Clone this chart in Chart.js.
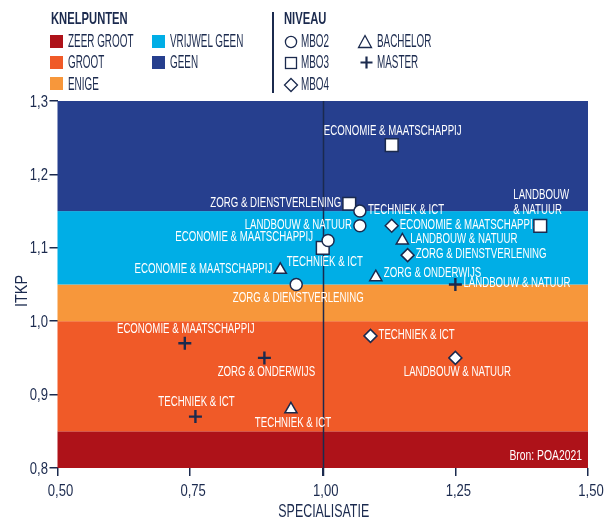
<!DOCTYPE html>
<html>
<head>
<meta charset="utf-8">
<script src="https://cdn.jsdelivr.net/npm/chart.js@4.4.1/dist/chart.umd.min.js"></script>
<style>
  body { margin: 0; background: #fff; }
  #wrap { position: relative; width: 616px; height: 522px; color: #1b2a4e;
          font-family: 'Liberation Sans', Arial, sans-serif; }
  #wrap canvas { position: absolute; left: 0; top: 0; }
  .lg { position: absolute; font-size: 18px; line-height: 18px; white-space: nowrap;
        transform: scaleX(0.55); transform-origin: 0 50%; }
  .hd { font-weight: bold; font-size: 17px; line-height: 17px; transform: scaleX(0.66); }
  .sw { position: absolute; width: 13px; height: 13px; }
  .sym { position: absolute; }
  #sep { position: absolute; left: 272px; top: 12px; width: 2px; height: 81px; background: #1b2a4e; }
</style>
</head>
<body>
<div id="wrap">
  <canvas id="js-canvas-itkp" width="616" height="522"></canvas>

  <div class="lg hd" style="left:51px;top:10px">KNELPUNTEN</div>
  <div class="sw" style="left:50px;top:35px;background:#ae1219"></div>
  <div class="lg" style="left:68px;top:32px">ZEER GROOT</div>
  <div class="sw" style="left:50px;top:56px;background:#f05a28"></div>
  <div class="lg" style="left:68px;top:53px">GROOT</div>
  <div class="sw" style="left:50px;top:77px;background:#f7973b"></div>
  <div class="lg" style="left:68px;top:75px">ENIGE</div>
  <div class="sw" style="left:152px;top:35px;background:#00aee6"></div>
  <div class="lg" style="left:170px;top:32px">VRIJWEL GEEN</div>
  <div class="sw" style="left:152px;top:56px;background:#263f8e"></div>
  <div class="lg" style="left:170px;top:53px">GEEN</div>

  <div id="sep"></div>

  <div class="lg hd" style="left:284px;top:10px">NIVEAU</div>
  <svg class="sym" style="left:284px;top:35px" width="14" height="14"><circle cx="7" cy="7" r="5.6" fill="none" stroke="#1b2a4e" stroke-width="1.3"/></svg>
  <div class="lg" style="left:301px;top:32px">MBO2</div>
  <svg class="sym" style="left:284px;top:56px" width="14" height="14"><rect x="1.5" y="1.5" width="11" height="11" fill="none" stroke="#1b2a4e" stroke-width="1.3"/></svg>
  <div class="lg" style="left:301px;top:53px">MBO3</div>
  <svg class="sym" style="left:283px;top:77px" width="16" height="16"><path d="M8 1.5 L14.5 8 L8 14.5 L1.5 8 Z" fill="none" stroke="#1b2a4e" stroke-width="1.3"/></svg>
  <div class="lg" style="left:301px;top:75px">MBO4</div>
  <svg class="sym" style="left:357px;top:34px" width="16" height="15"><path d="M8 1.5 L14.5 13.5 L1.5 13.5 Z" fill="none" stroke="#1b2a4e" stroke-width="1.3"/></svg>
  <div class="lg" style="left:377px;top:32px">BACHELOR</div>
  <svg class="sym" style="left:359px;top:55px" width="15" height="15"><path d="M7.5 1.5 V13.5 M1.5 7.5 H13.5" stroke="#1b2a4e" stroke-width="2.2"/></svg>
  <div class="lg" style="left:377px;top:53px">MASTER</div>
</div>

<script>
const FONT = "'Liberation Sans', Arial, sans-serif";
const NAVY = '#1b2a4e';

// Knelpunten bands on the ITKP axis
const bandEdges = [0.8, 0.85, 1.0, 1.05, 1.15, 1.3];
const bandColors = ['#ae1219', '#f05a28', '#f7973b', '#00aee6', '#263f8e'];

// Axis ticks
const xTicks = [0.5, 0.75, 1.0, 1.25, 1.5];
const yTicks = [0.8, 0.9, 1.0, 1.1, 1.2, 1.3];

// MBO2
const mbo2Sectors = ['TECHNIEK & ICT', 'LANDBOUW & NATUUR', 'ECONOMIE & MAATSCHAPPIJ', 'ZORG & DIENSTVERLENING'];
const mbo2Spec = [1.07, 1.07, 1.01, 0.95];
const mbo2Itkp = [1.15, 1.13, 1.11, 1.05];

// MBO3
const mbo3Sectors = ['ECONOMIE & MAATSCHAPPIJ', 'ZORG & DIENSTVERLENING', 'TECHNIEK & ICT', 'LANDBOUW & NATUUR'];
const mbo3Spec = [1.13, 1.05, 1.00, 1.41];
const mbo3Itkp = [1.24, 1.16, 1.10, 1.13];

// MBO4
const mbo4Sectors = ['ECONOMIE & MAATSCHAPPIJ', 'ZORG & DIENSTVERLENING', 'TECHNIEK & ICT', 'LANDBOUW & NATUUR'];
const mbo4Spec = [1.13, 1.16, 1.09, 1.25];
const mbo4Itkp = [1.13, 1.09, 0.98, 0.95];

// Bachelor
const bachelorSectors = ['LANDBOUW & NATUUR', 'ZORG & ONDERWIJS', 'ECONOMIE & MAATSCHAPPIJ', 'TECHNIEK & ICT'];
const bachelorSpec = [1.15, 1.10, 0.92, 0.94];
const bachelorItkp = [1.11, 1.06, 1.07, 0.88];

// Master
const masterSectors = ['LANDBOUW & NATUUR', 'ECONOMIE & MAATSCHAPPIJ', 'ZORG & ONDERWIJS', 'TECHNIEK & ICT'];
const masterSpec = [1.25, 0.74, 0.89, 0.76];
const masterItkp = [1.05, 0.97, 0.95, 0.87];

// where each label sits next to its point
const mbo2Place = ['right', 'left', 'leftUp', 'below'];
const mbo3Place = ['above', 'left', 'below', 'stack'];
const mbo4Place = ['right', 'right', 'right', 'below'];
const bachelorPlace = ['right', 'rightUp', 'left', 'below'];
const masterPlace = ['right', 'above', 'below', 'above'];

const toPoints = (xs, ys) => xs.map((x, i) => ({ x: x, y: ys[i] }));
const comma = (v, d) => v.toFixed(d).replace('.', ',');

// the original uses a condensed face, so squeeze the text horizontally
function squeeze(ctx, text, x, y, align, sx, rot) {
  ctx.save();
  ctx.translate(x, y);
  if (rot) ctx.rotate(rot);
  ctx.scale(sx, 1);
  ctx.textAlign = align;
  ctx.fillText(text, 0, 0);
  ctx.restore();
}

const bandsPlugin = {
  id: 'bands',
  beforeDatasetsDraw(chart) {
    const { ctx, chartArea: a, scales: { x, y } } = chart;
    ctx.save();
    for (let i = 0; i < bandColors.length; i++) {
      const top = y.getPixelForValue(bandEdges[i + 1]);
      const bottom = y.getPixelForValue(bandEdges[i]);
      ctx.fillStyle = bandColors[i];
      ctx.fillRect(a.left, top, a.right - a.left, bottom - top);
    }
    // reference line at specialisatie 1,00
    const x1 = Math.round(x.getPixelForValue(1.0)) + 0.5;
    ctx.strokeStyle = NAVY;
    ctx.lineWidth = 1.5;
    ctx.beginPath();
    ctx.moveTo(x1, a.top);
    ctx.lineTo(x1, a.bottom + 8);
    ctx.stroke();

    ctx.fillStyle = '#fff';
    ctx.textBaseline = 'middle';
    ctx.font = '14px ' + FONT;
    squeeze(ctx, 'Bron: POA2021', a.right - 6, a.bottom - 12, 'right', 0.74);

    // sector labels, under the markers
    ctx.font = '14px ' + FONT;
    chart.data.datasets.forEach((ds, i) => {
      chart.getDatasetMeta(i).data.forEach((pt, j) => {
        const t = ds.sectors[j];
        const px = pt.x, py = pt.y;
        const sx = 0.69;
        switch (ds.places[j]) {
          case 'right': squeeze(ctx, t, px + 8, py - 1, 'left', sx); break;
          case 'rightUp': squeeze(ctx, t, px + 8, py - 4, 'left', sx); break;
          case 'left': squeeze(ctx, t, px - 8, py - 1, 'right', sx); break;
          case 'leftUp': squeeze(ctx, t, px - 15, py - 3, 'right', sx); break;
          case 'above': squeeze(ctx, t, px + 1, py - 14, 'center', sx); break;
          case 'below': squeeze(ctx, t, px + 2, py + 14, 'center', sx); break;
          case 'stack': {
            const parts = t.split(' & ');
            squeeze(ctx, parts[0], px - 27, py - 31, 'left', sx);
            squeeze(ctx, '& ' + parts[1], px - 27, py - 16, 'left', sx);
            break;
          }
        }
      });
    });
    ctx.restore();
  }
};

const axisTextPlugin = {
  id: 'axisText',
  afterDraw(chart) {
    const { ctx, chartArea: a, scales: { x, y } } = chart;
    ctx.save();
    ctx.fillStyle = NAVY;
    ctx.textBaseline = 'middle';
    ctx.font = '17px ' + FONT;
    xTicks.forEach(v => squeeze(ctx, comma(v, 2), x.getPixelForValue(v) + 3, a.bottom + 23, 'center', 0.77));
    yTicks.forEach(v => squeeze(ctx, comma(v, 1), 48, y.getPixelForValue(v) + 1, 'right', 0.77));
    ctx.font = '18px ' + FONT;
    squeeze(ctx, 'SPECIALISATIE', (a.left + a.right) / 2 + 1, 512, 'center', 0.69);
    ctx.font = '17px ' + FONT;
    squeeze(ctx, 'ITKP', 22, 291, 'center', 0.85, -Math.PI / 2);
    ctx.restore();
  }
};

const pointBase = { backgroundColor: '#fff', borderColor: NAVY, borderWidth: 1.5, showLine: false };

const ctx = document.getElementById('js-canvas-itkp');
new Chart(ctx, {
  type: 'scatter',
  data: {
    datasets: [
      { ...pointBase, label: 'MBO2', data: toPoints(mbo2Spec, mbo2Itkp), sectors: mbo2Sectors, places: mbo2Place, pointStyle: 'circle', pointRadius: 6 },
      { ...pointBase, label: 'MBO3', data: toPoints(mbo3Spec, mbo3Itkp), sectors: mbo3Sectors, places: mbo3Place, pointStyle: 'rect', pointRadius: 9 },
      { ...pointBase, label: 'MBO4', data: toPoints(mbo4Spec, mbo4Itkp), sectors: mbo4Sectors, places: mbo4Place, pointStyle: 'rectRot', pointRadius: 6.5 },
      { ...pointBase, label: 'BACHELOR', data: toPoints(bachelorSpec, bachelorItkp), sectors: bachelorSectors, places: bachelorPlace, pointStyle: 'triangle', pointRadius: 7 },
      { ...pointBase, label: 'MASTER', data: toPoints(masterSpec, masterItkp), sectors: masterSectors, places: masterPlace, pointStyle: 'cross', pointRadius: 6.5, borderWidth: 2.4 }
    ]
  },
  options: {
    responsive: false,
    animation: false,
    layout: { padding: { top: 101, right: 28, left: 0, bottom: 0 } },
    plugins: { legend: { display: false }, tooltip: { enabled: false } },
    scales: {
      x: {
        type: 'linear', min: 0.5, max: 1.5,
        afterBuildTicks: s => { s.ticks = xTicks.map(v => ({ value: v })); },
        afterFit: s => { s.height = 54; },
        ticks: { display: false },
        grid: { drawOnChartArea: false, drawTicks: true, tickLength: 8, color: NAVY, lineWidth: 1.5 },
        border: { display: false }
      },
      y: {
        type: 'linear', min: 0.8, max: 1.3,
        afterBuildTicks: s => { s.ticks = yTicks.map(v => ({ value: v })); },
        afterFit: s => { s.width = 57.5; },
        ticks: { display: false },
        grid: { drawOnChartArea: false, drawTicks: true, tickLength: 8, color: NAVY, lineWidth: 1.5 },
        border: { display: false }
      }
    }
  },
  plugins: [bandsPlugin, axisTextPlugin]
});
</script>
</body>
</html>
